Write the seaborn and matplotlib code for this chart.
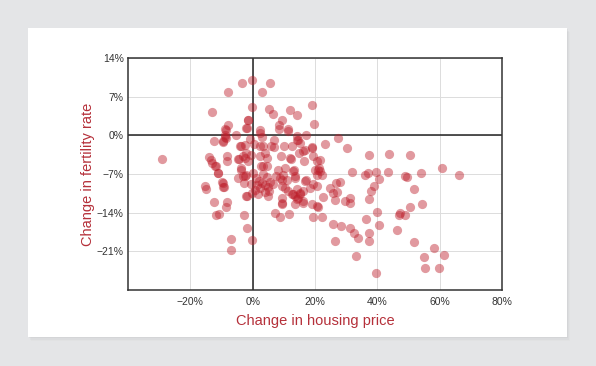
import numpy as np
import pandas as pd
import matplotlib
matplotlib.use("Agg")
import matplotlib.pyplot as plt
from matplotlib.patches import Rectangle
from matplotlib.ticker import FuncFormatter
import seaborn as sns

# Change in housing price (%)
housing_change = [
    -29.0, -13.0, -7.8, -3.4, -0.1, -0.1, -1.4, -7.8, -8.8, -1.9, -5.5, -8.9, -12.3, -9.4,
    -4.2, -2.4, -13.9, -8.2, -8.2, -4.8, -13.0, -12.0, -11.1, -2.4, -1.5, -0.4, -3.6, -3.1,
    -9.6, -4.7, -15.3, -14.9, -9.1, -12.3, -8.2, -8.5, -11.7, -10.9, -2.9, -1.8, -6.9, -6.9,
    -0.2, -2.0, -0.2, -0.4, -1.0, -2.4, -8.7, -9.0, -8.5, -9.6, -13.3, -4.4, -3.1, -2.0,
    -1.5, -2.0, -3.6, -11.7, -11.2, -9.9, -9.4, -3.6, -2.0, -2.8, -1.7,
    5.7, 2.9, 5.1, 6.4, 11.9, 14.3, 2.3, 2.3, 8.6, 9.4, 11.4, 11.4, 8.5, 3.1, 3.3, 2.3,
    6.0, 6.9, 10.0, 12.5, 6.9, 14.2, 2.3, 3.9, 4.7, 2.8, 4.5, 3.3, 9.0, 12.2, 8.2, 9.8,
    13.0, 10.3, 0.1, 0.5,
    1.0, 2.0, 3.0, 4.0, 4.8, 5.3, 2.5, 1.5, 3.8, 0.8, 4.5, 3.3, 5.5, 1.8, 4.8, 6.5, 7.6,
    8.7, 9.3, 10.9, 9.3, 9.5, 7.1, 8.7, 11.7, 13.0, 14.1, 10.3, 11.4, 12.5, 13.5, 14.6,
    15.2, 14.1, 9.3, 9.3, 13.5, 16.2, 13.5, 16.8, 13.5, 13.2,
    19.1, 19.7, 17.1, 14.1, 14.6, 15.2, 16.2, 14.9, 18.9, 23.2, 27.3, 30.2, 19.5, 20.6,
    21.6, 16.5, 21.1, 21.6, 22.2, 20.6, 17.1, 19.5, 18.4, 20.7, 16.2, 15.2, 16.0, 18.9,
    20.6, 21.1, 19.5, 22.4, 22.7, 24.8, 26.8, 28.1, 25.7, 27.0, 26.5, 29.5, 31.1, 31.3,
    31.8, 16.8, 11.9, 18.9, 20.0, 21.3,
    36.1, 36.9, 37.4, 39.7, 40.4, 39.0, 38.0, 37.2, 25.7, 28.3, 31.1, 32.4, 33.8, 26.5,
    36.5, 37.4, 37.4, 39.9, 40.4, 33.1, 39.7, 43.8, 43.5, 50.6, 49.0, 49.6, 53.9, 51.7,
    60.6, 66.2, 54.4, 50.6, 47.4, 46.9, 49.0, 46.4, 51.9, 58.2, 61.4, 54.9, 55.2, 59.9,
]

# Change in fertility rate (%)
fertility_change = [
    -4.2, 4.3, 7.9, 9.5, 10.0, 5.1, 2.7, 1.9, 1.2, 1.3, 0.0, -0.3, -1.1, -1.1,
    -2.0, -1.7, -3.9, -3.8, -4.6, -4.2, -5.0, -5.6, -6.8, -4.1, -4.7, -3.5, -5.9, -7.4,
    -8.6, -7.7, -9.2, -9.8, -9.3, -12.0, -12.0, -12.9, -14.5, -14.2, -14.4, -16.7, -18.7, -20.8,
    -18.9, -11.0, -10.4, -8.9, -0.7, -7.4, 1.0, 0.1, -0.5, -1.3, -4.5, -4.3, -3.8, -3.2,
    2.8, 1.3, -2.0, -5.6, -6.8, -8.4, -9.4, -6.2, -7.1, -8.6, -11.0,
    9.5, 7.9, 4.7, 3.9, 4.5, 3.7, 1.0, 0.4, 1.8, 2.7, 1.2, 0.7, 1.2, -0.3, -2.0, -1.9,
    -1.9, -2.1, -2.0, -1.9, -0.8, -0.8, -3.8, -3.2, -4.1, -5.6, -5.6, -5.6, -3.8, -4.2, -6.2, -7.1,
    -6.5, -6.0, -6.8, -1.5,
    -7.8, -8.2, -8.6, -9.0, -9.4, -10.0, -9.6, -9.0, -10.3, -9.9, -7.6, -7.0, -8.4, -10.6, -11.0, -8.8, -7.4,
    -7.7, -8.0, -8.0, -9.2, -12.2, -14.0, -14.7, -14.2, -10.7, -11.6, -9.5, -10.1, -10.7, -11.0, -11.3,
    -10.4, -9.8, -11.3, -12.4, -12.4, -12.2, -7.7, -8.2, -7.4, -6.2,
    5.5, 2.1, 0.0, -0.2, -0.8, -1.4, -2.9, -3.2, -2.3, -1.5, -0.5, -2.3, -3.7, -4.7,
    -4.4, -4.7, -6.2, -6.5, -7.1, -7.1, -8.0, -8.9, -9.5, -9.2, -10.1, -10.7, -11.9, -12.5,
    -12.8, -13.0, -14.7, -14.8, -11.2, -9.5, -8.6, -8.5, -10.4, -10.3, -11.8, -11.9, -11.3, -12.2,
    -6.7, -2.7, -4.1, -2.1, -6.2, -5.9,
    -7.1, -6.8, -3.6, -6.7, -7.9, -9.2, -10.0, -11.6, -16.0, -16.5, -16.8, -17.6, -18.6, -19.2,
    -15.1, -17.7, -19.2, -13.9, -16.3, -21.9, -25.0, -3.4, -6.7, -3.6, -7.4, -7.5, -6.9, -9.7,
    -6.0, -7.2, -12.5, -13.0, -14.0, -14.5, -14.5, -17.2, -19.4, -20.4, -21.6, -22.1, -24.1, -24.1,
]

x_ticks = [-20, 0, 20, 40, 60, 80]
y_ticks = [14, 7, 0, -7, -14, -21]

df = pd.DataFrame({"housing": housing_change, "fertility": fertility_change})

sns.set_style("white")
plt.rcParams["font.family"] = ["Liberation Sans", "DejaVu Sans"]

fig = plt.figure(figsize=(5.96, 3.66), dpi=100)
fig.patch.set_facecolor("#e4e5e7")

# card with soft shadow
for i, a in enumerate([0.10, 0.07, 0.04]):
    off = (i + 1) * 0.003
    fig.patches.append(Rectangle((0.047 + off * 0.6, 0.079 - off * 1.2), 0.904, 0.844,
                                 transform=fig.transFigure, facecolor="#9a9a9a",
                                 alpha=a, edgecolor="none", zorder=-3))
fig.patches.append(Rectangle((0.047, 0.079), 0.904, 0.844, transform=fig.transFigure,
                             facecolor="white", edgecolor="none", zorder=-2))

ax = fig.add_axes([0.2148, 0.2077, 0.6275, 0.6339])
ax.set_zorder(5)
ax.set_facecolor("white")

sns.scatterplot(data=df, x="housing", y="fertility", ax=ax, color="#bd1e2a",
                alpha=0.45, s=44, linewidth=0, zorder=3)

ax.set_xlim(-40, 80)
ax.set_ylim(-28, 14)
ax.set_xticks(x_ticks)
ax.set_yticks(y_ticks)
ax.xaxis.set_major_formatter(FuncFormatter(lambda v, p: f"{int(v)}%".replace("-", "\u2212")))
ax.yaxis.set_major_formatter(FuncFormatter(lambda v, p: f"{int(v)}%".replace("-", "\u2212")))
ax.grid(True, color="#dcdcdc", linewidth=0.7, zorder=0)
ax.set_axisbelow(True)
ax.axhline(0, color="#222222", linewidth=1.1, zorder=2)
ax.axvline(0, color="#222222", linewidth=1.1, zorder=2)
for s in ax.spines.values():
    s.set_color("#333333")
    s.set_linewidth(1.1)
ax.tick_params(axis="both", labelsize=7.5, colors="#333333", length=0, pad=5)
ax.tick_params(axis="y", pad=3)

ax.set_xlabel("Change in housing price", fontsize=10.5, color="#b5303a", labelpad=5)
ax.set_ylabel("Change in fertility rate", fontsize=10.5, color="#b5303a", labelpad=1)

fig.savefig("out.png", dpi=100, facecolor=fig.get_facecolor())
